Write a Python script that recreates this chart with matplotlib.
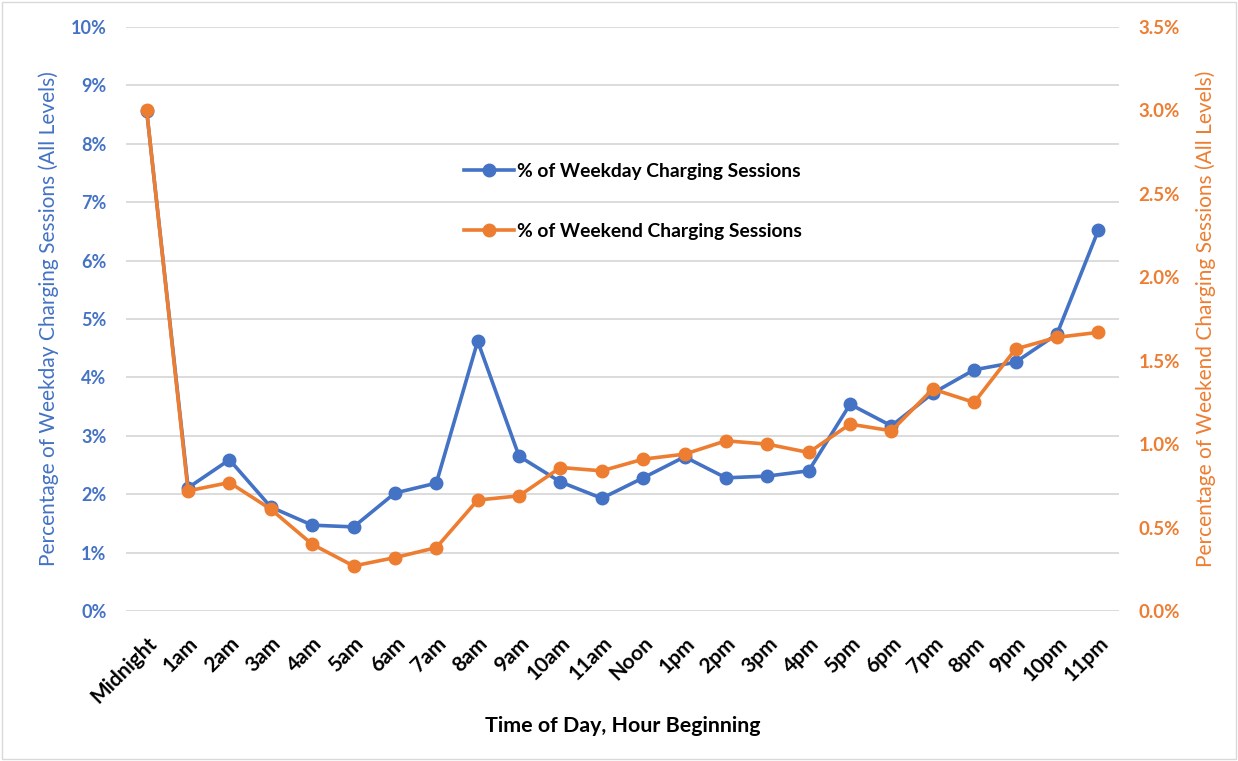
import matplotlib.pyplot as plt
from matplotlib.ticker import FuncFormatter

plt.rcParams['font.family'] = ['Lato', 'DejaVu Sans']

hours = ['Midnight', '1am', '2am', '3am', '4am', '5am', '6am', '7am', '8am', '9am',
         '10am', '11am', 'Noon', '1pm', '2pm', '3pm', '4pm', '5pm', '6pm', '7pm',
         '8pm', '9pm', '10pm', '11pm']

weekday = [8.56, 2.11, 2.59, 1.78, 1.47, 1.44, 2.02, 2.19, 4.62, 2.65, 2.21, 1.93,
           2.28, 2.64, 2.28, 2.31, 2.40, 3.54, 3.17, 3.73, 4.13, 4.26, 4.74, 6.52]

weekend = [3.00, 0.72, 0.77, 0.61, 0.40, 0.27, 0.32, 0.38, 0.665, 0.69, 0.86, 0.84,
           0.91, 0.94, 1.02, 1.00, 0.95, 1.12, 1.08, 1.33, 1.25, 1.57, 1.64, 1.67]

blue = '#4472C4'
orange = '#ED7D31'

fig = plt.figure(figsize=(12.38, 7.61), dpi=100)
fig.patches.append(plt.Rectangle((0.002, 0.002), 0.996, 0.996, transform=fig.transFigure,
                                 fill=False, edgecolor='#d9d9d9', linewidth=1))
ax = fig.add_axes([126 / 1238, 1 - 611 / 761, (1119 - 126) / 1238, (611 - 27) / 761])
x = list(range(len(hours)))

l1, = ax.plot(x, weekday, color=blue, linewidth=2.6, marker='o', markersize=9,
              label='% of Weekday Charging Sessions')
ax.set_ylim(0, 10)
ax.set_yticks(range(0, 11))
ax.yaxis.set_major_formatter(FuncFormatter(lambda v, p: f'{v:.0f}%'))
ax.set_xlim(-0.5, len(hours) - 0.5)
ax.set_xticks(x)
ax.set_xticklabels(hours, rotation=45, ha='right', rotation_mode='anchor',
                   fontsize=15, fontweight='bold')
ax.grid(axis='y', color='#d9d9d9', linewidth=1.3)
ax.set_axisbelow(True)
for s in ax.spines.values():
    s.set_visible(False)
ax.tick_params(axis='x', length=0, pad=16)
ax.tick_params(axis='y', length=0, labelcolor=blue, labelsize=13, pad=14)
for t in ax.get_yticklabels():
    t.set_fontweight('bold')
ax.set_ylabel('Percentage of Weekday Charging Sessions (All Levels)', color=blue,
              fontsize=15)
ax.yaxis.set_label_coords(-0.067, 0.5)
ax.set_xlabel('Time of Day, Hour Beginning', fontsize=15.4, fontweight='bold')
ax.xaxis.set_label_coords(0.5, -0.18)

ax2 = ax.twinx()
l2, = ax2.plot(x, weekend, color=orange, linewidth=2.6, marker='o', markersize=9,
               label='% of Weekend Charging Sessions')
ax2.set_ylim(0, 3.5)
ax2.set_yticks([0, 0.5, 1.0, 1.5, 2.0, 2.5, 3.0, 3.5])
ax2.yaxis.set_major_formatter(FuncFormatter(lambda v, p: f'{v:.1f}%'))
for s in ax2.spines.values():
    s.set_visible(False)
ax2.tick_params(axis='y', length=0, labelcolor=orange, labelsize=13.5, pad=14)
for t in ax2.get_yticklabels():
    t.set_fontweight('bold')
ax2.set_ylabel('Percentage of Weekend Charging Sessions (All Levels)', color=orange,
               fontsize=15)
ax2.yaxis.set_label_coords(1.077, 0.5)

ax2.legend(handles=[l1, l2], loc='upper left', bbox_to_anchor=(0.34, 0.767),
           frameon=False, labelspacing=2.2, handlelength=2.6, handletextpad=0.15,
           borderpad=0, borderaxespad=0, prop={'weight': 'bold', 'size': 13.9})

fig.savefig('out.png', dpi=100)
